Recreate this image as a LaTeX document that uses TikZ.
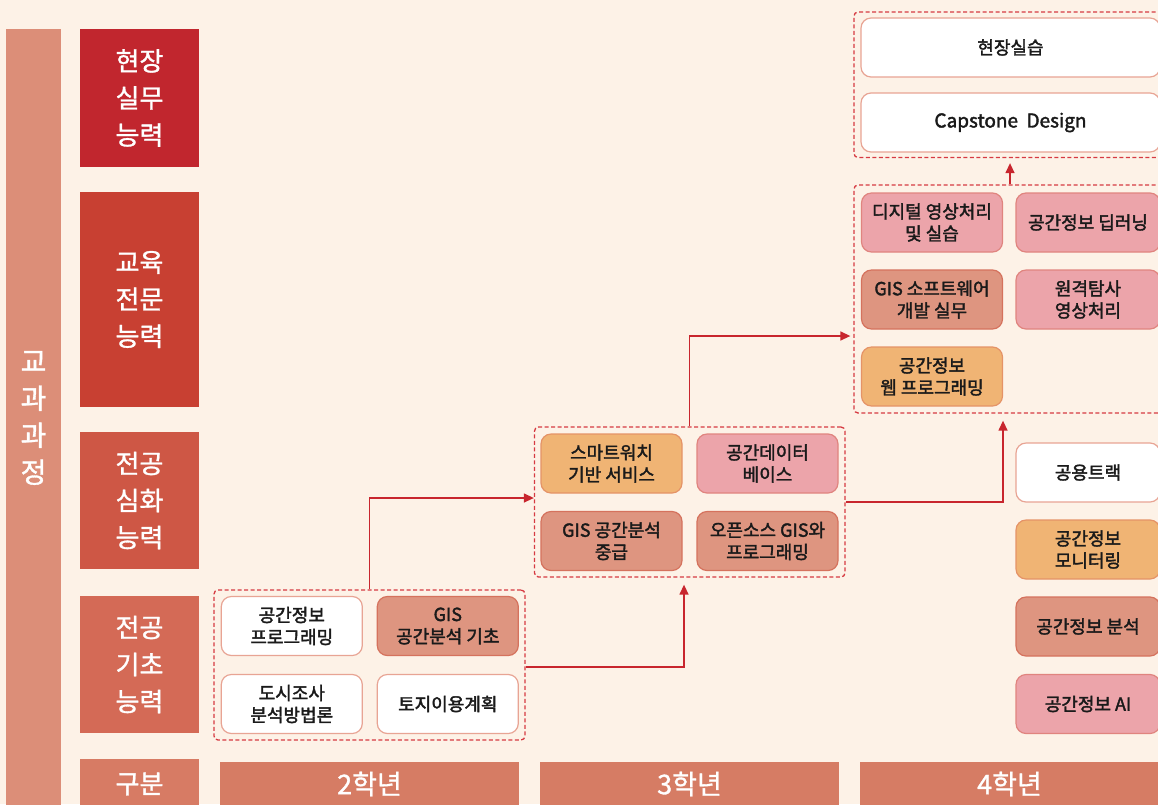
\documentclass[tikz,border=0pt]{standalone}
\usepackage{fontspec}
\setmainfont{Noto Sans CJK KR}
\newfontfamily\krm[FakeBold=2]{Noto Sans CJK KR}
\newfontfamily\krc[FakeBold=1.2]{Noto Sans CJK KR}
\usetikzlibrary{arrows.meta,calc}
\definecolor{bgc}{HTML}{FDF2E7}
\definecolor{leftbar}{HTML}{DC8E78}
\definecolor{catA}{HTML}{C1262E}
\definecolor{catB}{HTML}{C84032}
\definecolor{catC}{HTML}{CE5745}
\definecolor{catD}{HTML}{D46A56}
\definecolor{catE}{HTML}{D77B64}
\definecolor{yearc}{HTML}{D67C64}
\definecolor{dashc}{HTML}{D63A42}
\definecolor{arrc}{HTML}{C8262E}
\definecolor{wfill}{HTML}{FFFFFF}
\definecolor{wdraw}{HTML}{E8A494}
\definecolor{ofill}{HTML}{F0B474}
\definecolor{odraw}{HTML}{E59367}
\definecolor{sfill}{HTML}{DE9580}
\definecolor{sdraw}{HTML}{D5725D}
\definecolor{pfill}{HTML}{ECA4AA}
\definecolor{pdraw}{HTML}{E0847F}
\definecolor{txt}{HTML}{1A1A1A}
\tikzset{
  catbox/.style={fill=#1, text=white, font=\krc\fontsize{26}{37}\selectfont, align=center, minimum width=119pt, inner sep=0pt},
  course/.style={rounded corners=10pt, line width=1.2pt, minimum width=141pt, minimum height=59pt, align=center, inner sep=0pt, text=txt, font=\krm\fontsize{18}{22}\selectfont},
  wbox/.style={course, draw=wdraw, fill=wfill},
  obox/.style={course, draw=odraw, fill=ofill},
  sbox/.style={course, draw=sdraw, fill=sfill},
  pbox/.style={course, draw=pdraw, fill=pfill},
  grp/.style={draw=dashc, line width=1.3pt, dash pattern=on 4pt off 2.5pt, rounded corners=4pt, inner sep=0pt},
  yearbar/.style={fill=yearc, text=white, font=\krc\fontsize{27}{30}\selectfont, minimum width=299pt, minimum height=45pt, inner sep=0pt},
  arr/.style={draw=arrc, line width=1.4pt, -{Triangle[length=10pt,width=9pt]}}
}
\begin{document}
\begin{tikzpicture}[x=1pt,y=-1pt]
\clip (0,0) rectangle (1158,804);
\fill[bgc] (0,0) rectangle (1158,804);
% left bar
\node[fill=leftbar, minimum width=55pt, minimum height=790pt, inner sep=0pt] (lb) at (33.5,424) {};
\node[text=white, font=\krc\fontsize{28}{37}\selectfont, align=center] (lbt) at (33.5,418) {교\\과\\과\\정};
% categories
\node[catbox=catA, minimum height=138pt] (c1) at (139.5,98) {현장\\실무\\능력};
\node[catbox=catB, minimum height=215pt] (c2) at (139.5,299.5) {교육\\전문\\능력};
\node[catbox=catC, minimum height=137pt] (c3) at (139.5,500.5) {전공\\심화\\능력};
\node[catbox=catD, minimum height=137pt] (c4) at (139.5,664.5) {전공\\기초\\능력};
\node[catbox=catE, minimum height=50pt] (c5) at (139.5,784) {구분};
% year bars
\node[yearbar] (y2) at (369.5,784) {2학년};
\node[yearbar] (y3) at (689.5,784) {3학년};
\node[yearbar] (y4) at (1009.5,784) {4학년};
% groups
\node[grp, minimum width=311pt, minimum height=150pt] (d2) at (369.5,665) {};
\node[grp, minimum width=310.5pt, minimum height=150pt] (d3) at (689.75,502) {};
\node[grp, minimum width=312pt, minimum height=228pt] (d4b) at (1010,299) {};
\node[grp, minimum width=312pt, minimum height=145.5pt] (d4a) at (1010,84.75) {};
% 2nd year
\node[wbox] (a1) at (291.8,626) {공간정보\\프로그래밍};
\node[sbox] (a2) at (447.8,626) {GIS\\공간분석 기초};
\node[wbox] (a3) at (291.8,704) {도시조사\\분석방법론};
\node[wbox] (a4) at (447.8,704) {토지이용계획};
% 3rd year
\node[obox] (b1) at (611.5,463.5) {스마트워치\\기반 서비스};
\node[pbox] (b2) at (767.5,463.5) {공간데이터\\베이스};
\node[sbox] (b3) at (611.5,541) {GIS 공간분석\\중급};
\node[sbox] (b4) at (767.5,541) {오픈소스 GIS와\\프로그래밍};
% 4th year lower group
\node[pbox] (e1) at (932,222.5) {디지털 영상처리\\및 실습};
\node[pbox, minimum width=144pt] (e2) at (1088,222.5) {공간정보 딥러닝};
\node[sbox] (e3) at (932,299.5) {GIS 소프트웨어\\개발 실무};
\node[pbox, minimum width=144pt] (e4) at (1088,299.5) {원격탐사\\영상처리};
\node[obox] (e5) at (932,376.5) {공간정보\\웹 프로그래밍};
% 4th year upper group
\node[wbox, minimum width=299pt] (f1) at (1010.5,47.5) {현장실습};
\node[wbox, minimum width=299pt, font=\krm\fontsize{19}{22}\selectfont] (f2) at (1010.5,122.5) {Capstone~~Design};
% right column
\node[wbox, minimum width=144pt] (g1) at (1088,472.5) {공용트랙};
\node[obox, minimum width=144pt] (g2) at (1088,549.5) {공간정보\\모니터링};
\node[sbox, minimum width=144pt] (g3) at (1088,626.5) {공간정보 분석};
\node[pbox, minimum width=144pt] (g4) at (1088,704) {공간정보 AI};
% connectors
\coordinate (m1) at (369.5,498);
\coordinate (m2) at (684,667);
\coordinate (m3) at (689.75,336);
\coordinate (m4) at (1003,502);
\draw[arr] (d2.north -| m1) |- (d3.west |- m1);
\draw[arr, shorten >=7pt] (d2.east |- m2) -| (d3.south -| m2);
\draw[arr, shorten >=3pt] (d3.north) |- (d4b.west |- m3);
\draw[arr, shorten >=7pt] (d3.east) -| (d4b.south -| m4);
\draw[arr, shorten >=5pt] (d4b.north) -- (d4a.south);
\end{tikzpicture}
\end{document}
